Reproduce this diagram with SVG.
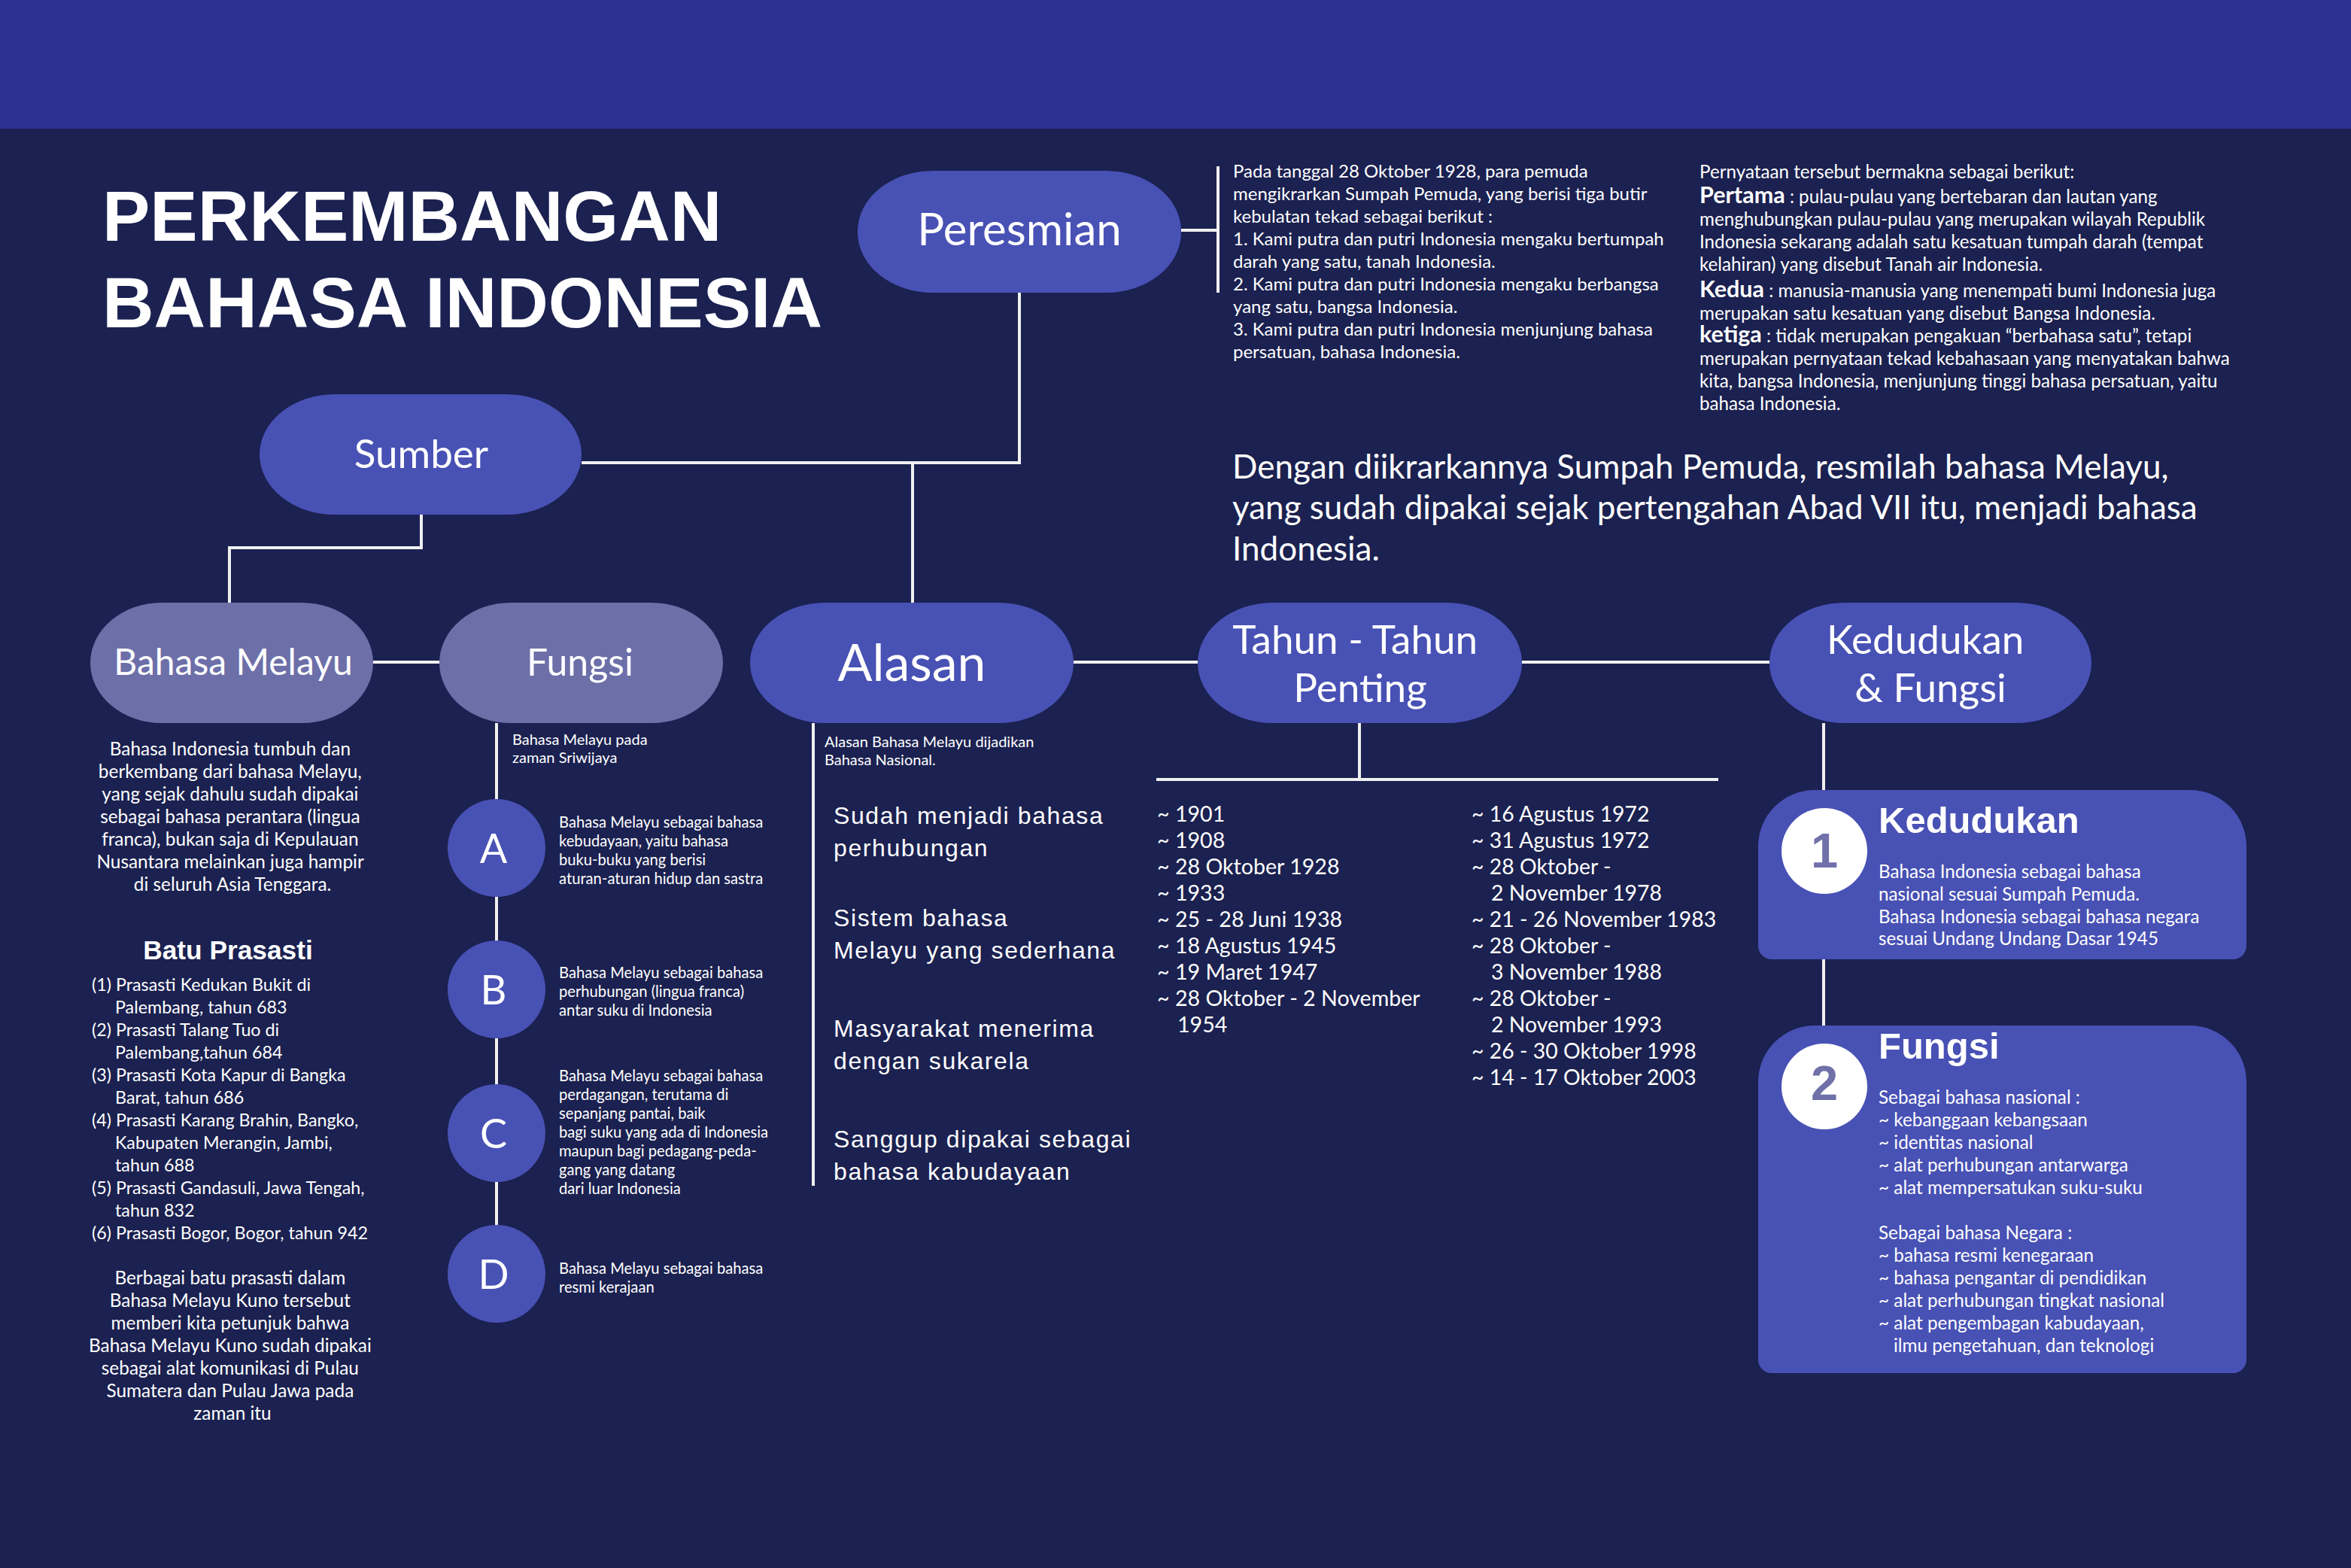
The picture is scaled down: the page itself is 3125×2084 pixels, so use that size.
<svg xmlns="http://www.w3.org/2000/svg" width="3125" height="2084" viewBox="0 0 3125 2084">
<defs>
<style>
.blue{fill:#4851B4}
.grey{fill:#6D6FA9}
.conn{stroke:#F0F0F0;stroke-width:4;fill:none}
.w{fill:#FFFFFF}
.my{font-family:Lato,"Noto Sans","Liberation Sans",sans-serif;fill:#FFFFFF}
.ar{font-family:"Liberation Sans",Arial,sans-serif;fill:#FFFFFF}
.b{font-weight:700}
.mid{text-anchor:middle}
.num{font-family:"Liberation Sans",Arial,sans-serif;font-weight:700;fill:#7071A9;font-size:65px;text-anchor:middle}
</style>
</defs>
<rect x="0" y="0" width="3125" height="2084" fill="#1B2150"/>
<rect x="0" y="0" width="3125" height="171" fill="#2E3192"/>

<g id="title">
<text class="ar b" font-size="95" x="136" y="320">PERKEMBANGAN</text>
<text class="ar b" font-size="95" x="136" y="435">BAHASA INDONESIA</text>
</g>

<g id="connectors">
<path class="conn" d="M1355 389 V615 M773 615 H1357 M1213 615 V801"/>
<path class="conn" d="M1570 306 H1619 M1619 221 V389"/>
<path class="conn" d="M560 684 V728 H305 V801"/>
<path class="conn" d="M496 880 H584"/>
<path class="conn" d="M1427 880 H1592"/>
<path class="conn" d="M2023 880 H2352"/>
<path class="conn" d="M660 961 V1630"/>
<path class="conn" d="M1081 961 V1576"/>
<path class="conn" d="M1807 961 V1036 M1537 1036 H2284"/>
<path class="conn" d="M2424 961 V1052 M2424 1273 V1365"/>
</g>

<g id="node-peresmian">
<rect class="blue" x="1140" y="227" width="430" height="162" rx="100" ry="80"/>
<text class="my mid" font-size="60" x="1355" y="326">Peresmian</text>
</g>

<g id="peresmian-text">
<text class="my" font-size="24">
<tspan x="1639" y="236">Pada tanggal 28 Oktober 1928, para pemuda</tspan>
<tspan x="1639" y="266">mengikrarkan Sumpah Pemuda, yang berisi tiga butir</tspan>
<tspan x="1639" y="296">kebulatan tekad sebagai berikut :</tspan>
<tspan x="1639" y="326">1. Kami putra dan putri Indonesia mengaku bertumpah</tspan>
<tspan x="1639" y="356">darah yang satu, tanah Indonesia.</tspan>
<tspan x="1639" y="386">2. Kami putra dan putri Indonesia mengaku berbangsa</tspan>
<tspan x="1639" y="416">yang satu, bangsa Indonesia.</tspan>
<tspan x="1639" y="446">3. Kami putra dan putri Indonesia menjunjung bahasa</tspan>
<tspan x="1639" y="476">persatuan, bahasa Indonesia.</tspan>
</text>
</g>

<g id="pernyataan-text">
<text class="my" font-size="24.2">
<tspan x="2259" y="237">Pernyataan tersebut bermakna sebagai berikut:</tspan>
<tspan x="2259" y="270"><tspan class="b" font-size="30.5">Pertama</tspan> : pulau-pulau yang bertebaran dan lautan yang</tspan>
<tspan x="2259" y="300">menghubungkan pulau-pulau yang merupakan wilayah Republik</tspan>
<tspan x="2259" y="330">Indonesia sekarang adalah satu kesatuan tumpah darah (tempat</tspan>
<tspan x="2259" y="360">kelahiran) yang disebut Tanah air Indonesia.</tspan>
<tspan x="2259" y="395"><tspan class="b" font-size="30.5">Kedua</tspan> : manusia-manusia yang menempati bumi Indonesia juga</tspan>
<tspan x="2259" y="425">merupakan satu kesatuan yang disebut Bangsa Indonesia.</tspan>
<tspan x="2259" y="455"><tspan class="b" font-size="30.5">ketiga</tspan> : tidak merupakan pengakuan “berbahasa satu”, tetapi</tspan>
<tspan x="2259" y="485">merupakan pernyataan tekad kebahasaan yang menyatakan bahwa</tspan>
<tspan x="2259" y="515">kita, bangsa Indonesia, menjunjung tinggi bahasa persatuan, yaitu</tspan>
<tspan x="2259" y="545">bahasa Indonesia.</tspan>
</text>
</g>

<g id="sumpah-text">
<text class="my" font-size="44">
<tspan x="1638" y="636">Dengan diikrarkannya Sumpah Pemuda, resmilah bahasa Melayu,</tspan>
<tspan x="1638" y="690">yang sudah dipakai sejak pertengahan Abad VII itu, menjadi bahasa</tspan>
<tspan x="1638" y="745">Indonesia.</tspan>
</text>
</g>

<g id="node-sumber">
<rect class="blue" x="345" y="524" width="428" height="160" rx="100" ry="80"/>
<text class="my mid" font-size="53" x="560" y="622">Sumber</text>
</g>

<g id="node-bahasa-melayu">
<rect class="grey" x="120" y="801" width="376" height="160" rx="95" ry="80"/>
<text class="my mid" font-size="48" x="310" y="897">Bahasa Melayu</text>
</g>

<g id="bahasa-melayu-text">
<text class="my mid" font-size="24.4">
<tspan x="309" y="1004">Bahasa Indonesia tumbuh dan</tspan>
<tspan x="309" y="1034">berkembang dari bahasa Melayu,</tspan>
<tspan x="309" y="1064">yang sejak dahulu sudah dipakai</tspan>
<tspan x="309" y="1094">sebagai bahasa perantara (lingua</tspan>
<tspan x="309" y="1124">franca), bukan saja di Kepulauan</tspan>
<tspan x="309" y="1154">Nusantara melainkan juga hampir</tspan>
<tspan x="309" y="1184">di seluruh Asia Tenggara.</tspan>
</text>
<text class="ar b mid" font-size="35.3" x="303" y="1275">Batu Prasasti</text>
<text class="my" font-size="23.3">
<tspan x="122" y="1317">(1) Prasasti Kedukan Bukit di</tspan>
<tspan x="153" y="1347">Palembang, tahun 683</tspan>
<tspan x="122" y="1377">(2) Prasasti Talang Tuo di</tspan>
<tspan x="153" y="1407">Palembang,tahun 684</tspan>
<tspan x="122" y="1437">(3) Prasasti Kota Kapur di Bangka</tspan>
<tspan x="153" y="1467">Barat, tahun 686</tspan>
<tspan x="122" y="1497">(4) Prasasti Karang Brahin, Bangko,</tspan>
<tspan x="153" y="1527">Kabupaten Merangin, Jambi,</tspan>
<tspan x="153" y="1557">tahun 688</tspan>
<tspan x="122" y="1587">(5) Prasasti Gandasuli, Jawa Tengah,</tspan>
<tspan x="153" y="1617">tahun 832</tspan>
<tspan x="122" y="1647">(6) Prasasti Bogor, Bogor, tahun 942</tspan>
</text>
<text class="my mid" font-size="24.4">
<tspan x="309" y="1707">Berbagai batu prasasti dalam</tspan>
<tspan x="309" y="1737">Bahasa Melayu Kuno tersebut</tspan>
<tspan x="309" y="1767">memberi kita petunjuk bahwa</tspan>
<tspan x="309" y="1797">Bahasa Melayu Kuno sudah dipakai</tspan>
<tspan x="309" y="1827">sebagai alat komunikasi di Pulau</tspan>
<tspan x="309" y="1857">Sumatera dan Pulau Jawa pada</tspan>
<tspan x="309" y="1887">zaman itu</tspan>
</text>
</g>

<g id="node-fungsi">
<rect class="grey" x="584" y="801" width="377" height="160" rx="95" ry="80"/>
<text class="my mid" font-size="50" x="771" y="898">Fungsi</text>
<text class="my" font-size="20">
<tspan x="681" y="990">Bahasa Melayu pada</tspan>
<tspan x="681" y="1014">zaman Sriwijaya</tspan>
</text>
</g>

<g id="item-a">
<circle class="blue" cx="660" cy="1127" r="65"/>
<text class="my mid" font-size="54" x="656" y="1147">A</text>
<text class="my" font-size="20.2">
<tspan x="743" y="1100">Bahasa Melayu sebagai bahasa</tspan>
<tspan x="743" y="1125">kebudayaan, yaitu bahasa</tspan>
<tspan x="743" y="1150">buku-buku yang berisi</tspan>
<tspan x="743" y="1175">aturan-aturan hidup dan sastra</tspan>
</text>
</g>
<g id="item-b">
<circle class="blue" cx="660" cy="1315" r="65"/>
<text class="my mid" font-size="54" x="656" y="1335">B</text>
<text class="my" font-size="20.2">
<tspan x="743" y="1300">Bahasa Melayu sebagai bahasa</tspan>
<tspan x="743" y="1325">perhubungan (lingua franca)</tspan>
<tspan x="743" y="1350">antar suku di Indonesia</tspan>
</text>
</g>
<g id="item-c">
<circle class="blue" cx="660" cy="1506" r="65"/>
<text class="my mid" font-size="54" x="656" y="1526">C</text>
<text class="my" font-size="20.2">
<tspan x="743" y="1437">Bahasa Melayu sebagai bahasa</tspan>
<tspan x="743" y="1462">perdagangan, terutama di</tspan>
<tspan x="743" y="1487">sepanjang pantai, baik</tspan>
<tspan x="743" y="1512">bagi suku yang ada di Indonesia</tspan>
<tspan x="743" y="1537">maupun bagi pedagang-peda-</tspan>
<tspan x="743" y="1562">gang yang datang</tspan>
<tspan x="743" y="1587">dari luar Indonesia</tspan>
</text>
</g>
<g id="item-d">
<circle class="blue" cx="660" cy="1693" r="65"/>
<text class="my mid" font-size="54" x="656" y="1713">D</text>
<text class="my" font-size="20.2">
<tspan x="743" y="1693">Bahasa Melayu sebagai bahasa</tspan>
<tspan x="743" y="1718">resmi kerajaan</tspan>
</text>
</g>

<g id="node-alasan">
<rect class="blue" x="997" y="801" width="430" height="160" rx="100" ry="80"/>
<text class="my mid" font-size="68" x="1212" y="905">Alasan</text>
<text class="my" font-size="20">
<tspan x="1096" y="993">Alasan Bahasa Melayu dijadikan</tspan>
<tspan x="1096" y="1017">Bahasa Nasional.</tspan>
</text>
<text class="ar" font-size="32" letter-spacing="1.6">
<tspan x="1108" y="1095">Sudah menjadi bahasa</tspan>
<tspan x="1108" y="1138">perhubungan</tspan>
<tspan x="1108" y="1231">Sistem bahasa</tspan>
<tspan x="1108" y="1274">Melayu yang sederhana</tspan>
<tspan x="1108" y="1378">Masyarakat menerima</tspan>
<tspan x="1108" y="1421">dengan sukarela</tspan>
<tspan x="1108" y="1525">Sanggup dipakai sebagai</tspan>
<tspan x="1108" y="1568">bahasa kabudayaan</tspan>
</text>
</g>

<g id="node-tahun">
<rect class="blue" x="1592" y="801" width="431" height="160" rx="100" ry="80"/>
<text class="my mid" font-size="53">
<tspan x="1808" y="869">Tahun - Tahun</tspan>
<tspan x="1808" y="933">Penting</tspan>
</text>
<text class="my" font-size="28.6">
<tspan x="1538" y="1092">~ 1901</tspan>
<tspan x="1538" y="1127">~ 1908</tspan>
<tspan x="1538" y="1162">~ 28 Oktober 1928</tspan>
<tspan x="1538" y="1197">~ 1933</tspan>
<tspan x="1538" y="1232">~ 25 - 28 Juni 1938</tspan>
<tspan x="1538" y="1267">~ 18 Agustus 1945</tspan>
<tspan x="1538" y="1302">~ 19 Maret 1947</tspan>
<tspan x="1538" y="1337">~ 28 Oktober - 2 November</tspan>
<tspan x="1565" y="1372">1954</tspan>
</text>
<text class="my" font-size="28.4">
<tspan x="1956" y="1092">~ 16 Agustus 1972</tspan>
<tspan x="1956" y="1127">~ 31 Agustus 1972</tspan>
<tspan x="1956" y="1162">~ 28 Oktober -</tspan>
<tspan x="1982" y="1197">2 November 1978</tspan>
<tspan x="1956" y="1232">~ 21 - 26 November 1983</tspan>
<tspan x="1956" y="1267">~ 28 Oktober -</tspan>
<tspan x="1982" y="1302">3 November 1988</tspan>
<tspan x="1956" y="1337">~ 28 Oktober -</tspan>
<tspan x="1982" y="1372">2 November 1993</tspan>
<tspan x="1956" y="1407">~ 26 - 30 Oktober 1998</tspan>
<tspan x="1956" y="1442">~ 14 - 17 Oktober 2003</tspan>
</text>
</g>

<g id="node-kedudukan-fungsi">
<rect class="blue" x="2352" y="801" width="428" height="160" rx="100" ry="80"/>
<text class="my mid" font-size="53">
<tspan x="2566" y="869">Kedudukan</tspan>
<tspan x="2566" y="933">&amp; Fungsi</tspan>
</text>
</g>

<g id="box-kedudukan">
<path class="blue" d="M2412 1050 H2911 A75 75 0 0 1 2986 1125 V1257 A18 18 0 0 1 2968 1275 H2355 A18 18 0 0 1 2337 1257 V1125 A75 75 0 0 1 2412 1050 Z"/>
<circle class="w" cx="2425" cy="1131" r="57"/>
<text class="num" x="2425" y="1153">1</text>
<text class="ar b" font-size="49" x="2497" y="1107">Kedudukan</text>
<text class="my" font-size="24.2">
<tspan x="2497" y="1167">Bahasa Indonesia sebagai bahasa</tspan>
<tspan x="2497" y="1197">nasional sesuai Sumpah Pemuda.</tspan>
<tspan x="2497" y="1227">Bahasa Indonesia sebagai bahasa negara</tspan>
<tspan x="2497" y="1256">sesuai Undang Undang Dasar 1945</tspan>
</text>
</g>

<g id="box-fungsi">
<path class="blue" d="M2412 1363 H2911 A75 75 0 0 1 2986 1438 V1807 A18 18 0 0 1 2968 1825 H2355 A18 18 0 0 1 2337 1807 V1438 A75 75 0 0 1 2412 1363 Z"/>
<circle class="w" cx="2425" cy="1444" r="57"/>
<text class="num" x="2425" y="1462">2</text>
<text class="ar b" font-size="49" x="2497" y="1407">Fungsi</text>
<text class="my" font-size="24.3">
<tspan x="2497" y="1467">Sebagai bahasa nasional :</tspan>
<tspan x="2497" y="1497">~ kebanggaan kebangsaan</tspan>
<tspan x="2497" y="1527">~ identitas nasional</tspan>
<tspan x="2497" y="1557">~ alat perhubungan antarwarga</tspan>
<tspan x="2497" y="1587">~ alat mempersatukan suku-suku</tspan>
<tspan x="2497" y="1647">Sebagai bahasa Negara :</tspan>
<tspan x="2497" y="1677">~ bahasa resmi kenegaraan</tspan>
<tspan x="2497" y="1707">~ bahasa pengantar di pendidikan</tspan>
<tspan x="2497" y="1737">~ alat perhubungan tingkat nasional</tspan>
<tspan x="2497" y="1767">~ alat pengembagan kabudayaan,</tspan>
<tspan x="2517" y="1797">ilmu pengetahuan,  dan teknologi</tspan>
</text>
</g>
</svg>
